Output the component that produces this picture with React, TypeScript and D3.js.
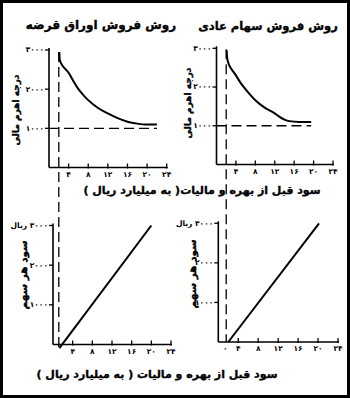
import React from "react";
import * as d3 from "d3";

const W = 350;
const H = 398;

// x: EBIT (billion rials), shared by all four panels
const ebitTicks = [4, 8, 12, 16, 20, 24];
const interestEbit = 2;

// y ticks (degree of financial leverage ×1000, and EPS in rials)
const dflTicks = [1000, 2000, 3000];
const epsTicks = [1000, 2000, 3000];

// DFL curve, bond financing
const bondEbit = [2.1, 2.2, 2.5, 3, 4, 5, 6, 7, 8, 10, 12, 14, 16, 18, 20, 22];
const bondDfl = [2950, 2750, 2650, 2560, 2420, 2200, 2000, 1850, 1720, 1520, 1380, 1260, 1170, 1120, 1095, 1095];

// DFL curve, common stock financing
const stockEbit = [2.1, 2.2, 2.5, 3, 4, 5, 6, 8, 10, 12, 13, 14, 15, 17, 19.5];
const stockDfl = [2950, 2750, 2600, 2480, 2300, 2100, 1940, 1660, 1460, 1320, 1230, 1160, 1120, 1100, 1100];

// EPS lines
const bondEpsEbit = [1.3, 20];
const bondEps = [-90, 3000];
const stockEpsEbit = [2, 20.2];
const stockEps = [0, 3000];

// end of the DFL = 1 reference line
const bondFloorEnd = 22;
const stockFloorEnd = 19.5;

const titleBond = "روش فروش اوراق قرضه";
const titleStock = "روش فروش سهام عادی";
const yTitleDfl = "درجه اهرم مالی";
const yTitleEps = "سود هر سهم";
const xTitleTop = "سود قبل از بهره و مالیات( به میلیارد ریال )";
const xTitleBottom = "سود قبل از بهره و مالیات ( به میلیارد ریال )";
const rialUnit = "ریال";

const fa = (v: number | string) =>
  String(v).replace(/\d/g, (d) => "۰۱۲۳۴۵۶۷۸۹"[+d]);

// right-to-left marks so neutral characters (parentheses) resolve as RTL
const rtl = (s: string) => "\u200F" + s + "\u200F";

const FONT = "'DejaVu Sans', sans-serif";

type PanelProps = {
  x: d3.ScaleLinear<number, number>;
  y: d3.ScaleLinear<number, number>;
  yTicks: number[];
  topUnit?: boolean;
  zeroLabel?: boolean;
  xs: number[];
  ys: number[];
  floorEnd?: number;
  straight?: boolean;
};

const tickText = {
  fontSize: 7.5,
  fontWeight: "bold",
  fontFamily: FONT,
} as const;

function Panel({ x, y, yTicks, topUnit, zeroLabel, xs, ys, floorEnd, straight }: PanelProps) {
  const x0 = x(0);
  const y0 = y(0);
  const yTop = y(3000) - 2;
  const xEnd = x(24);
  const line = d3
    .line<number>()
    .x((_, i) => x(xs[i]))
    .y((d) => y(d))
    .curve(straight ? d3.curveLinear : d3.curveMonotoneX);
  return (
    <g>
      {/* axes */}
      <line x1={x0} x2={x0} y1={yTop} y2={y0} stroke="#000" strokeWidth={1.6} />
      <line x1={x0} x2={xEnd + 1} y1={y0} y2={y0} stroke="#000" strokeWidth={1.6} />
      {yTicks.map((t) => (
        <g key={t}>
          <line x1={x0 - 4} x2={x0} y1={y(t)} y2={y(t)} stroke="#000" strokeWidth={1.3} />
          <text x={x0 - 5} y={y(t)} dy="0.32em" textAnchor="end" {...tickText}>
            {t === 3000 && topUnit ? rtl(`${fa(t)} ${rialUnit}`) : fa(t)}
          </text>
        </g>
      ))}
      {ebitTicks.map((t) => (
        <g key={t}>
          <line x1={x(t)} x2={x(t)} y1={y0 - 4} y2={y0 + 1} stroke="#000" strokeWidth={1.3} />
          <text x={x(t)} y={y0 + 9} textAnchor="middle" {...tickText}>
            {fa(t)}
          </text>
        </g>
      ))}
      {zeroLabel && (
        <text x={x(interestEbit) - 3} y={y0 + 9} textAnchor="middle" {...tickText}>
          {fa(0)}
        </text>
      )}
      {floorEnd !== undefined && (
        <line
          x1={x0}
          x2={x(floorEnd)}
          y1={y(1000)}
          y2={y(1000)}
          stroke="#000"
          strokeWidth={1.3}
          strokeDasharray="10,5"
        />
      )}
      <path d={line(ys) || ""} fill="none" stroke="#000" strokeWidth={2} />
    </g>
  );
}

type LabelProps = { x: number; y: number; size: number; rotate?: boolean; children: string };

function Label({ x, y, size, rotate, children }: LabelProps) {
  return (
    <text
      transform={`translate(${x},${y})${rotate ? " rotate(-90)" : ""}`}
      textAnchor="middle"
      fontSize={size}
      fontWeight="bold"
      fontFamily={FONT}
      stroke="#000"
      strokeWidth={0.35}
    >
      {rtl(children)}
    </text>
  );
}

export default function App() {
  // top-left: bond financing, DFL
  const xTL = d3.scaleLinear().domain([0, 24]).range([49, 166.7]);
  const yTL = d3.scaleLinear().domain([0, 3000]).range([167.5, 50]);
  // top-right: stock financing, DFL
  const xTR = d3.scaleLinear().domain([0, 24]).range([216.5, 333]);
  const yTR = d3.scaleLinear().domain([0, 3000]).range([164.5, 48.3]);
  // bottom-left: bond financing, EPS
  const xBL = d3.scaleLinear().domain([0, 24]).range([53, 171]);
  const yBL = d3.scaleLinear().domain([0, 3000]).range([344.5, 225.5]);
  // bottom-right: stock financing, EPS
  const xBR = d3.scaleLinear().domain([0, 24]).range([218.3, 338]);
  const yBR = d3.scaleLinear().domain([0, 3000]).range([342, 223.3]);

  const dashL = xTL(interestEbit);
  const dashR = xTR(interestEbit);

  return (
    <svg
      width={W}
      height={H}
      style={{ position: "absolute", left: 0, top: 0, background: "#fff" }}
    >
      <rect x={1.5} y={1.5} width={W - 3} height={H - 3} fill="#fff" stroke="#000" strokeWidth={3} />

      <Label x={101} y={29} size={12}>{titleBond}</Label>
      <Label x={268} y={30} size={11.5}>{titleStock}</Label>

      <Label x={19} y={110} size={9} rotate>{yTitleDfl}</Label>
      <Label x={191} y={103} size={9} rotate>{yTitleDfl}</Label>
      <Label x={27} y={275} size={10.5} rotate>{yTitleEps}</Label>
      <Label x={196} y={274} size={10.5} rotate>{yTitleEps}</Label>

      <Label x={202} y={194} size={11}>{xTitleTop}</Label>
      <Label x={157} y={378} size={11}>{xTitleBottom}</Label>

      {/* break-even guides at EBIT = interest */}
      <line x1={dashL} x2={dashL} y1={yTL(3000) + 2} y2={yBL(0) + 4} stroke="#000" strokeWidth={1.3} strokeDasharray="10,5" />
      <line x1={dashR} x2={dashR} y1={yTR(3000) + 1} y2={yBR(0)} stroke="#000" strokeWidth={1.3} strokeDasharray="10,5" />

      <Panel x={xTL} y={yTL} yTicks={dflTicks} xs={bondEbit} ys={bondDfl} floorEnd={bondFloorEnd} />
      <Panel x={xTR} y={yTR} yTicks={dflTicks} xs={stockEbit} ys={stockDfl} floorEnd={stockFloorEnd} />
      <Panel x={xBL} y={yBL} yTicks={epsTicks} topUnit xs={bondEpsEbit} ys={bondEps} straight />
      <Panel x={xBR} y={yBR} yTicks={epsTicks} topUnit zeroLabel xs={stockEpsEbit} ys={stockEps} straight />
    </svg>
  );
}
